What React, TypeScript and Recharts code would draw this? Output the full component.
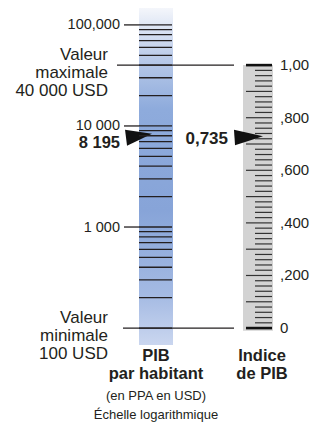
import React from 'react';
import { ComposedChart, XAxis, YAxis, ReferenceArea, Scatter } from 'recharts';

// GDP per capita scale (log), USD PPP
const gdpTicks = [
  100, 200, 300, 400, 500, 600, 700, 800, 900,
  1000, 2000, 3000, 4000, 5000, 6000, 7000, 8000, 9000,
  10000, 20000, 30000, 40000, 50000, 60000, 70000, 80000, 90000,
  100000,
];
const gdpTickLabels: Record<number, string> = { 1000: '1 000', 10000: '10 000', 100000: '100,000' };
const gdpMinimum = 100;
const gdpMaximum = 40000;
const minimumLabel = ['Valeur', 'minimale', '100 USD'];
const maximumLabel = ['Valeur', 'maximale', '40 000 USD'];

// GDP index scale (linear)
const indexTicks = [
  0, 0.02, 0.04, 0.06, 0.08, 0.1, 0.12, 0.14, 0.16, 0.18,
  0.2, 0.22, 0.24, 0.26, 0.28, 0.3, 0.32, 0.34, 0.36, 0.38,
  0.4, 0.42, 0.44, 0.46, 0.48, 0.5, 0.52, 0.54, 0.56, 0.58,
  0.6, 0.62, 0.64, 0.66, 0.68, 0.7, 0.72, 0.74, 0.76, 0.78,
  0.8, 0.82, 0.84, 0.86, 0.88, 0.9, 0.92, 0.94, 0.96, 0.98,
  1,
];
const indexTickLabels: Record<string, string> = {
  '0': '0', '0.2': ',200', '0.4': ',400', '0.6': ',600', '0.8': ',800', '1': '1,00',
};

// the country example
const countryGdp = 8195;
const countryGdpLabel = '8 195';
const countryIndex = 0.735;
const countryIndexLabel = '0,735';

const gdpCaption = ['PIB', 'par habitant', '(en PPA en USD)', 'Échelle logarithmique'];
const indexCaption = ['Indice', 'de PIB'];

const W = 313;
const H = 422;
const FONT = '"Liberation Sans", Arial, sans-serif';
const INK = '#231f20';

const BLUE_X1 = 139;
const BLUE_X2 = 173;
const GRAY_X1 = 243;
const GRAY_X2 = 273;
const GDP_ARROW_X = 152;
const INDEX_ARROW_X = 263;

// plot area runs past the 100..100,000 range so the blue bar fades out above and below
const GDP_DOMAIN: [number, number] = [68, 147000];
const toIndex = (v: number) => Math.log10(v / gdpMinimum) / Math.log10(gdpMaximum / gdpMinimum);
const INDEX_DOMAIN: [number, number] = [toIndex(GDP_DOMAIN[0]), toIndex(GDP_DOMAIN[1])];

const gdpPoint = [{ x: GDP_ARROW_X, gdp: countryGdp }];
const indexPoint = [{ x: INDEX_ARROW_X, idx: countryIndex }];

const GdpTick = (props: any) => {
  const { y, payload } = props;
  const v = payload.value as number;
  const label = gdpTickLabels[v];
  const side = v === gdpMaximum ? maximumLabel : v === gdpMinimum ? minimumLabel : null;
  return (
    <g>
      <line x1={BLUE_X1} x2={BLUE_X2 - 1} y1={y} y2={y} stroke={INK} strokeWidth={1.3} />
      {label && (
        <g>
          <line x1={124} x2={BLUE_X1} y1={y} y2={y} stroke={INK} strokeWidth={1.3} />
          <text x={120} y={y + 4.5} textAnchor="end" fontFamily={FONT} fontSize={14.5} fill={INK}>
            {label}
          </text>
        </g>
      )}
      {side && (
        <g>
          <line x1={v === gdpMaximum ? 117 : 123} x2={234} y1={y} y2={y} stroke={INK} strokeWidth={1.3} />
          {side.map((t, i) => (
            <text key={t} x={108} y={y - 5 + i * 18} textAnchor="end" fontFamily={FONT} fontSize={17} fill={INK}>
              {t}
            </text>
          ))}
        </g>
      )}
    </g>
  );
};

const IndexTick = (props: any) => {
  const { y, payload } = props;
  const v = payload.value as number;
  const isEnd = v === 0 || v === 1;
  const isMajor = Math.abs(v * 10 - Math.round(v * 10)) < 1e-6;
  const label = indexTickLabels[String(v)];
  return (
    <g>
      <line
        x1={isMajor ? 246 : 255}
        x2={GRAY_X2 - 1}
        y1={y}
        y2={y}
        stroke={isEnd ? '#111' : '#333'}
        strokeWidth={isEnd ? 2.6 : 1.2}
      />
      {label && (
        <text x={280} y={y + 5} fontFamily={FONT} fontSize={15} fill={INK}>
          {label}
        </text>
      )}
    </g>
  );
};

const CaptionTick = (props: any) => {
  const { x, y, payload } = props;
  const lines = payload.value < 200 ? gdpCaption : indexCaption;
  const cx = payload.value < 200 ? x : x + 4;
  return (
    <g>
      {lines.map((t, i) => (
        <text
          key={t}
          x={cx}
          y={i < 2 ? y + 16 + i * 18 : y + 55 + (i - 2) * 19}
          textAnchor="middle"
          fontFamily={FONT}
          fontSize={i < 2 ? 16.5 : 13}
          fontWeight={i < 2 ? 700 : 400}
          fill={INK}
        >
          {t}
        </text>
      ))}
    </g>
  );
};

const GdpArrow = (props: any) => {
  const { cx, cy } = props;
  return (
    <g>
      <polygon points={`${cx - 27},${cy - 5} ${cx},${cy - 1} ${cx - 25},${cy + 11}`} fill="#111" />
      <text x={120} y={cy + 13} textAnchor="end" fontFamily={FONT} fontSize={16.5} fontWeight={700} fill={INK}>
        {countryGdpLabel}
      </text>
    </g>
  );
};

const IndexArrow = (props: any) => {
  const { cx, cy } = props;
  return (
    <g>
      <polygon points={`${cx - 29},${cy - 5} ${cx},${cy + 1.5} ${cx - 28},${cy + 10.5}`} fill="#111" />
      <text x={228} y={cy + 9} textAnchor="end" fontFamily={FONT} fontSize={17} fontWeight={700} fill={INK}>
        {countryIndexLabel}
      </text>
    </g>
  );
};

export default function App() {
  return (
    <div style={{ position: 'absolute', left: 0, top: 0, width: W, height: H }}>
      <ComposedChart width={W} height={H} margin={{ top: 8, right: -1, bottom: 0, left: -1 }}>
        <defs>
          <linearGradient id="gdpGrad" x1="0" y1="0" x2="0" y2="1">
            <stop offset="0" stopColor="#f4f6fb" />
            <stop offset="0.05" stopColor="#e0e7f5" />
            <stop offset="0.15" stopColor="#b9cae9" />
            <stop offset="0.3" stopColor="#8eabdc" />
            <stop offset="0.6" stopColor="#87a4d8" />
            <stop offset="0.85" stopColor="#a4bae3" />
            <stop offset="1" stopColor="#cad6ef" />
          </linearGradient>
        </defs>
        <XAxis
          dataKey="x"
          type="number"
          domain={[0, W]}
          allowDataOverflow
          ticks={[156, 258]}
          interval={0}
          height={77}
          axisLine={false}
          tickLine={false}
          tickSize={0}
          tickMargin={0}
          tick={<CaptionTick />}
        />
        <YAxis
          yAxisId="gdp"
          dataKey="gdp"
          type="number"
          scale="log"
          domain={GDP_DOMAIN}
          allowDataOverflow
          ticks={gdpTicks}
          interval={0}
          width={1}
          axisLine={false}
          tickLine={false}
          tick={<GdpTick />}
        />
        <YAxis
          yAxisId="idx"
          dataKey="idx"
          orientation="right"
          type="number"
          domain={INDEX_DOMAIN}
          allowDataOverflow
          ticks={indexTicks}
          interval={0}
          width={1}
          axisLine={false}
          tickLine={false}
          tick={<IndexTick />}
        />
        <ReferenceArea yAxisId="gdp" x1={BLUE_X1} x2={BLUE_X2} fill="url(#gdpGrad)" fillOpacity={1} stroke="none" ifOverflow="visible" />
        <ReferenceArea yAxisId="idx" x1={GRAY_X1} x2={GRAY_X2} y1={-0.01} y2={1} fill="#d3d3d3" fillOpacity={1} stroke="none" />
        <Scatter yAxisId="gdp" data={gdpPoint} dataKey="gdp" shape={<GdpArrow />} isAnimationActive={false} />
        <Scatter yAxisId="idx" data={indexPoint} dataKey="idx" shape={<IndexArrow />} isAnimationActive={false} />
      </ComposedChart>
    </div>
  );
}
